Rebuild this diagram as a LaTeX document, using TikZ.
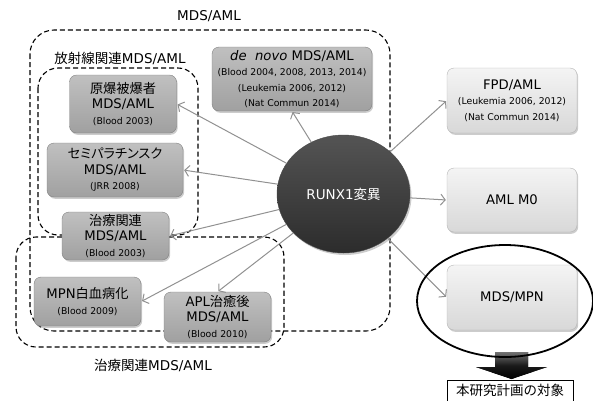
\documentclass[tikz,border=0pt]{standalone}
\usepackage{fontspec}
\setmainfont{DejaVu Sans}
\newfontfamily\jp{Noto Sans CJK JP}
\newfontfamily\jpprop[RawFeature=+palt]{Noto Sans CJK JP}
\usetikzlibrary{shadows,arrows.meta,shapes.geometric}

\definecolor{dtop}{RGB}{192,192,192}
\definecolor{dbot}{RGB}{160,160,160}
\definecolor{dline}{RGB}{128,128,128}
\definecolor{ltop}{RGB}{244,244,244}
\definecolor{lbot}{RGB}{216,216,216}
\definecolor{lline}{RGB}{180,180,180}
\definecolor{ctop}{RGB}{84,84,84}
\definecolor{cbot}{RGB}{44,44,44}
\definecolor{arr}{RGB}{145,145,145}

\newcommand\citeline[1]{{\fontsize{9.3}{11}\selectfont #1}}

\tikzset{
  basebox/.style={rounded corners=7pt, align=center, inner sep=1pt,
    font=\fontsize{13.2}{15.5}\selectfont,
    drop shadow={shadow xshift=1.2pt, shadow yshift=-1.8pt, opacity=0.4}},
  darkbox/.style={basebox, draw=dline, top color=dtop, bottom color=dbot},
  lightbox/.style={basebox, draw=lline, top color=ltop, bottom color=lbot},
  region/.style={draw, dashed, dash pattern=on 5pt off 3pt, line width=1.1pt, rounded corners=24pt},
  regionlabel/.style={font=\fontsize{13.5}{16}\selectfont},
  link/.style={draw=arr, line width=1pt, -{Straight Barb[length=4.5pt,width=11pt]}, shorten >=1pt}
}

\begin{document}
\begin{tikzpicture}[x=1pt,y=-1pt]
\useasboundingbox (0,0) rectangle (593,400);

% dashed groupings
\draw[region] (30,30) rectangle (390,331);
\draw[region, rounded corners=20pt] (38,68) rectangle (198,235);
\draw[region, rounded corners=20pt] (16,237) rectangle (284,347);
\node[regionlabel] (lblall) at (209,16) {MDS/AML};
\node[regionlabel] (lblrad) at (120,58) {{\jp 放射線関連}MDS/AML};
\node[regionlabel] (lbltx) at (153,365) {{\jp 治療関連}MDS/AML};

% disease boxes
\node[darkbox, minimum width=107pt, minimum height=58pt] (genbaku) at (123,104)
  {{\jp 原爆被爆者}\\MDS/AML\\\citeline{(Blood 2003)}};
\node[darkbox, minimum width=136pt, minimum height=54pt] (semi) at (115,170)
  {{\jpprop セミパラチンスク}\\MDS/AML\\\citeline{(JRR 2008)}};
\node[darkbox, minimum width=107pt, minimum height=48pt] (chiryo) at (115.5,236)
  {{\jp 治療関連}\\MDS/AML\\\citeline{(Blood 2003)}};
\node[darkbox, minimum width=107pt, minimum height=49pt] (mpn) at (87.5,301.5)
  {MPN{\jp 白血病化}\\\citeline{(Blood 2009)}};
\node[darkbox, minimum width=107pt, minimum height=50pt] (apl) at (217.5,317)
  {APL{\jp 治癒後}\\MDS/AML\\\citeline{(Blood 2010)}};
\node[darkbox, minimum width=160pt, minimum height=64pt] (denovo) at (292,79)
  {\textit{de\ \ novo} MDS/AML\\\citeline{(Blood 2004, 2008, 2013, 2014)}\\\citeline{(Leukemia 2006, 2012)}\\\citeline{(Nat Commun 2014)}};

\node[lightbox, minimum width=130pt, minimum height=65pt] (fpd) at (512,100.5)
  {FPD/AML\\\citeline{(Leukemia 2006, 2012)}\\\citeline{(Nat Commun 2014)}};
\node[lightbox, minimum width=130pt, minimum height=64pt] (m0) at (512,200) {AML M0};
\node[lightbox, minimum width=130pt, minimum height=65pt] (mdsmpn) at (512,297.5) {MDS/MPN};

% central mutation
\node[ellipse, draw=ctop!85!black, top color=ctop, bottom color=cbot,
  minimum width=133pt, minimum height=118pt, text=white,
  font=\fontsize{13.5}{16}\selectfont,
  drop shadow={shadow xshift=1.5pt, shadow yshift=-2pt, opacity=0.4}]
  (runx) at (343.5,194) {RUNX1{\jp 変異}};

% links
\foreach \t/\a in {genbaku/east, semi/east, chiryo/east, mpn/east, apl/north,
                   denovo/south, fpd/west, m0/west, mdsmpn/west}
  \draw[link] (runx) -- (\t.\a);

% focus of this project
\fill[top color=black!55, bottom color=black, middle color=black!90]
  (495,352) -- (528,352) -- (528,367) -- (547,367) -- (511.5,379)
  -- (476,367) -- (495,367) -- cycle;
\node[ellipse, draw, line width=1.8pt, minimum width=176pt, minimum height=112pt] (focus) at (505,301) {};
\node[draw, fill=white, line width=0.6pt, minimum width=126pt, minimum height=21pt,
  inner sep=0pt, font=\jp\fontsize{13.5}{16}\selectfont] (target) at (510,390.5) {本研究計画の対象};
\end{tikzpicture}
\end{document}
